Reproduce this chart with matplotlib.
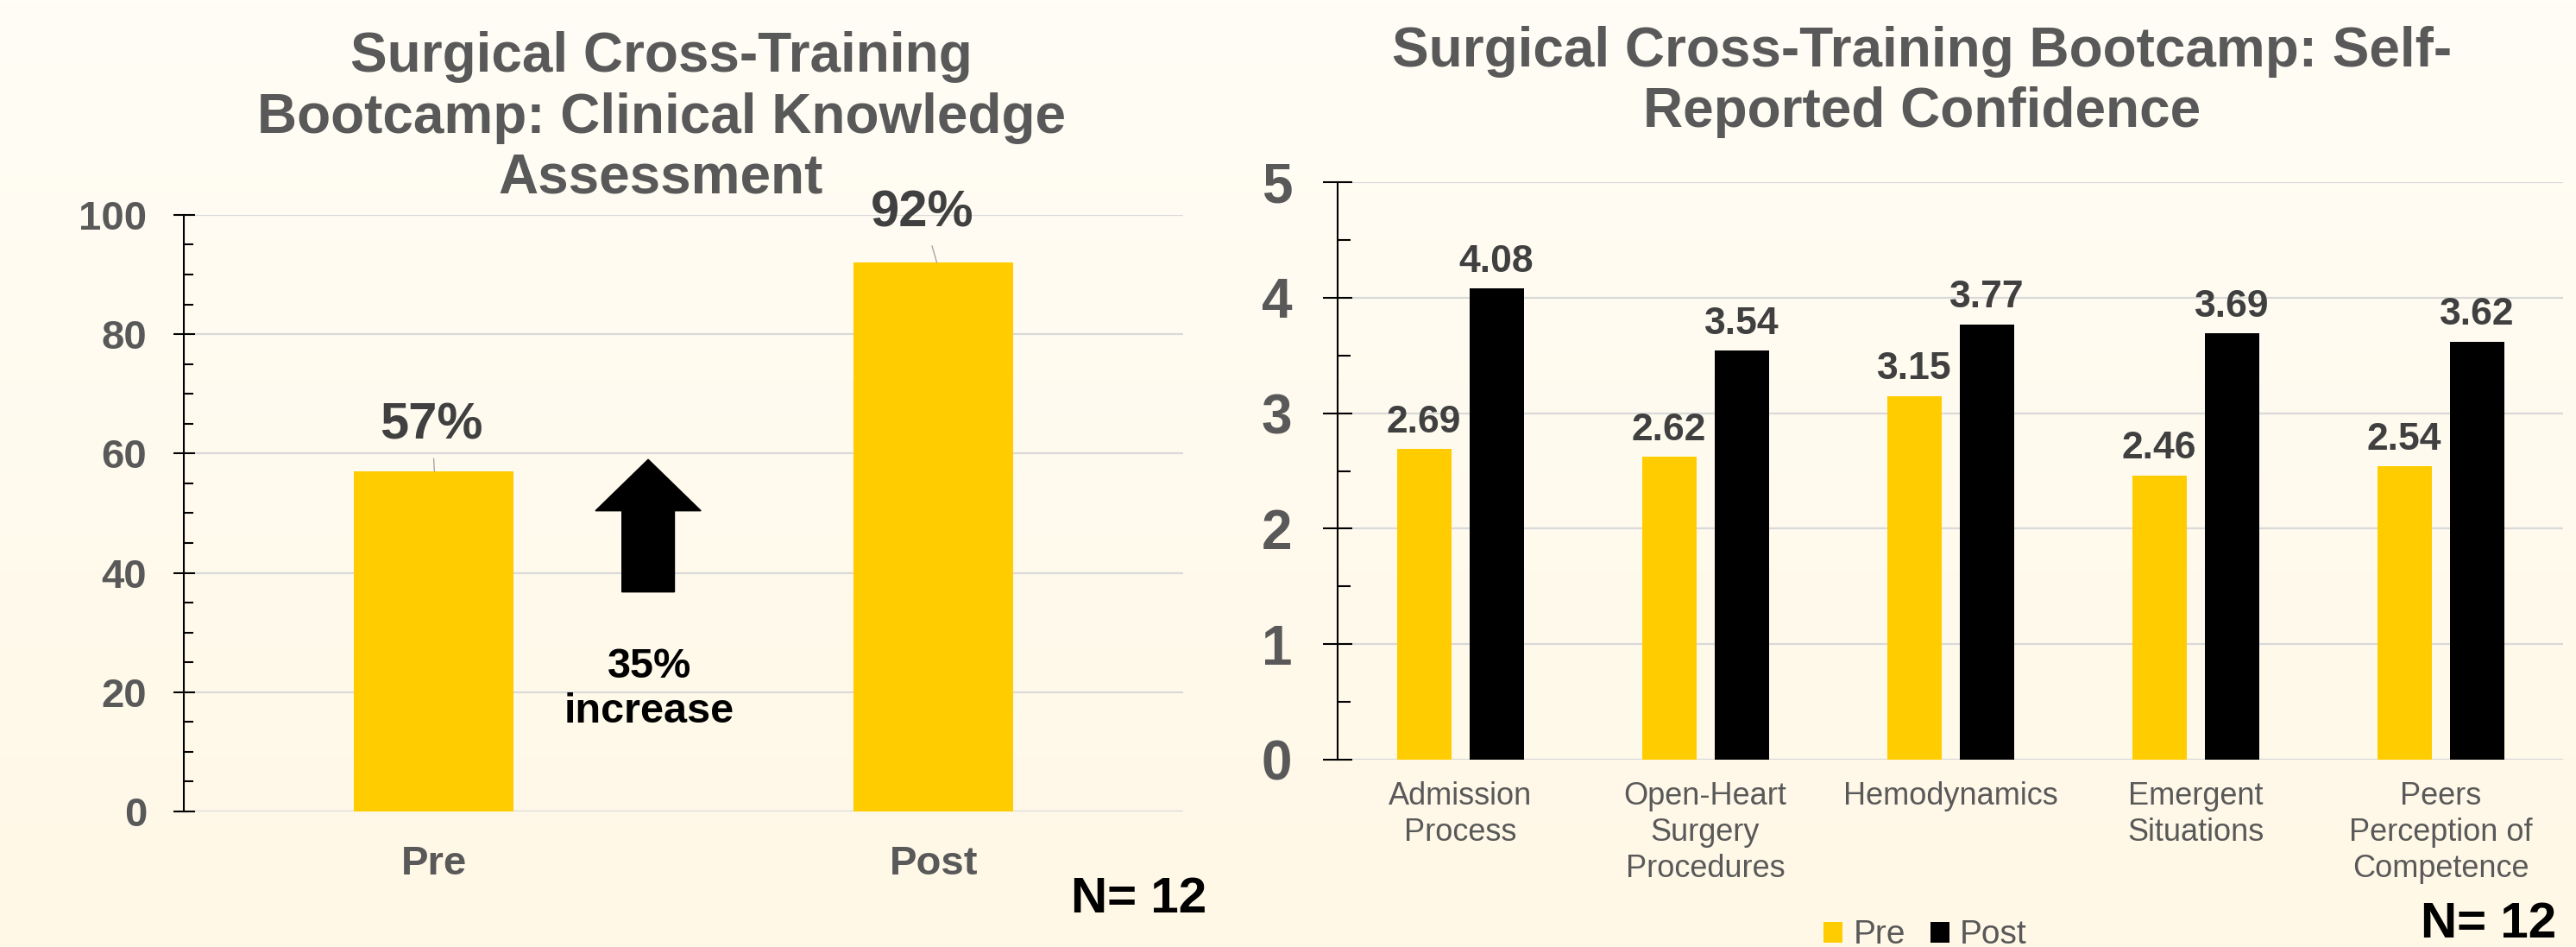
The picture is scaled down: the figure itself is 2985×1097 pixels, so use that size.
import numpy as np
import matplotlib
matplotlib.use("Agg")
import matplotlib.pyplot as plt
from matplotlib.patches import FancyArrow

plt.rcParams['font.family'] = ['Liberation Sans', 'DejaVu Sans']

# left chart: clinical knowledge assessment
know_cats = ["Pre", "Post"]
know_vals = [57, 92]
know_labels = ["57%", "92%"]
know_label_pos = [(-0.004, 62.5), (0.978, 98.1)]

# right chart: self-reported confidence
conf_cats = ["Admission\nProcess", "Open-Heart\nSurgery\nProcedures", "Hemodynamics",
             "Emergent\nSituations", "Peers\nPerception of\nCompetence"]
conf_pre = [2.69, 2.62, 3.15, 2.46, 2.54]
conf_post = [4.08, 3.54, 3.77, 3.69, 3.62]

YELLOW = "#FFCC00"
GRAY = "#595959"
DARK = "#404040"
GRID = "#D9D9D9"

fig = plt.figure(figsize=(29.85, 10.97), dpi=100)

# soft cream background, a bit warmer at the bottom
bg = fig.add_axes([0, 0, 1, 1], zorder=-10)
top = np.array([255, 253, 246]) / 255
bot = np.array([255, 248, 230]) / 255
t = np.linspace(0, 1, 256)[:, None]
grad = top * (1 - t) + bot * t
bg.imshow(grad[:, None, :], aspect='auto', extent=[0, 1, 0, 1])
bg.axis('off')


def style_axes(ax, ticks, minor, size, maj_len, min_len, pad):
    ax.set_facecolor('none')
    for s in ['top', 'right', 'bottom']:
        ax.spines[s].set_visible(False)
    ax.spines['left'].set_linewidth(1.5)
    ax.set_yticks(ticks)
    ax.set_yticklabels([str(v) for v in ticks], fontweight='bold')
    ax.set_yticks(minor, minor=True)
    ax.tick_params(axis='y', which='major', direction='inout', length=maj_len,
                   width=1.5, pad=pad, labelsize=size, labelcolor=GRAY)
    ax.tick_params(axis='y', which='minor', direction='in', length=min_len, width=1.5)
    ax.tick_params(axis='x', length=0)
    ax.grid(axis='y', which='major', color=GRID, linewidth=1.6)
    ax.set_axisbelow(True)


# ---------------- left ----------------
ax1 = fig.add_axes([0.0714, 0.1431, 0.388, 0.630])
x1 = np.arange(len(know_cats))
ax1.bar(x1, know_vals, width=0.32, color=YELLOW, zorder=2)
ax1.set_xlim(-0.5, 1.5)
ax1.set_ylim(0, 100)
style_axes(ax1, np.arange(0, 101, 20), np.arange(0, 101, 5), 34, 18, 8, 22)
ax1.set_xticks(x1)
ax1.set_xticklabels(know_cats, fontsize=34, fontweight='bold', color=GRAY)
ax1.tick_params(axis='x', pad=28)

for xi, v, lab, pos in zip(x1, know_vals, know_labels, know_label_pos):
    ax1.annotate(lab, xy=(xi + (pos[0] - xi) * -0.3, v), xytext=pos,
                 ha='center', va='baseline', fontsize=43, fontweight='bold', color=DARK,
                 arrowprops=dict(arrowstyle='-', color='#A6A6A6', lw=1.0,
                                 shrinkA=6, shrinkB=0))

ax1.add_patch(FancyArrow(0.429, 36.8, 0, 22.2, width=0.105, head_width=0.211,
                         head_length=8.6, length_includes_head=True,
                         color='black', zorder=3))
ax1.text(0.431, 20.5, "35%\nincrease", ha='center', va='center', fontsize=35,
         fontweight='bold', color='black', linespacing=1.2)

fig.text(766 / 2985, 0.967, "Surgical Cross-Training\nBootcamp: Clinical Knowledge\nAssessment",
         ha='center', va='top', fontsize=46, fontweight='bold', color=GRAY,
         linespacing=1.22)
fig.text(1241 / 2985, 0.0365, "N= 12", ha='left', va='baseline', fontsize=42,
         fontweight='bold', color='black')

# ---------------- right ----------------
ax2 = fig.add_axes([0.5193, 0.1978, 0.4757, 0.6098])
x2 = np.arange(len(conf_cats))
w = 0.222
off = 0.148
b_pre = ax2.bar(x2 - off, conf_pre, width=w, color=YELLOW, label="Pre", zorder=2)
b_post = ax2.bar(x2 + off, conf_post, width=w, color='black', label="Post", zorder=2)
ax2.set_xlim(-0.5, len(conf_cats) - 0.5)
ax2.set_ylim(0, 5)
style_axes(ax2, np.arange(0, 6, 1), np.arange(0, 5.01, 0.5), 46, 24, 11, 26)
ax2.set_xticks(x2)
ax2.set_xticklabels(conf_cats, fontsize=26, color=GRAY, linespacing=1.25)
ax2.tick_params(axis='x', pad=18)

for bars, vals in [(b_pre, conf_pre), (b_post, conf_post)]:
    for b, v in zip(bars, vals):
        ax2.annotate(f"{v:.2f}", xy=(b.get_x() + b.get_width() / 2, v),
                     xytext=(0, 14), textcoords='offset points',
                     ha='center', va='baseline', fontsize=32, fontweight='bold', color=DARK)

fig.text(2227 / 2985, 0.973, "Surgical Cross-Training Bootcamp: Self-\nReported Confidence",
         ha='center', va='top', fontsize=46, fontweight='bold', color=GRAY,
         linespacing=1.22)

leg = fig.legend(handles=[b_pre, b_post], labels=["Pre", "Post"], loc='lower center',
                 bbox_to_anchor=(2231 / 2985, -0.004), ncol=2, frameon=False,
                 fontsize=28, handlelength=0.57, handleheight=0.57,
                 handletextpad=0.31, columnspacing=0.75, borderpad=0, borderaxespad=0)
for txt in leg.get_texts():
    txt.set_color(GRAY)

fig.text(2962 / 2985, 0.010, "N= 12", ha='right', va='baseline', fontsize=42,
         fontweight='bold', color='black')

fig.savefig("out.png", dpi=100)
